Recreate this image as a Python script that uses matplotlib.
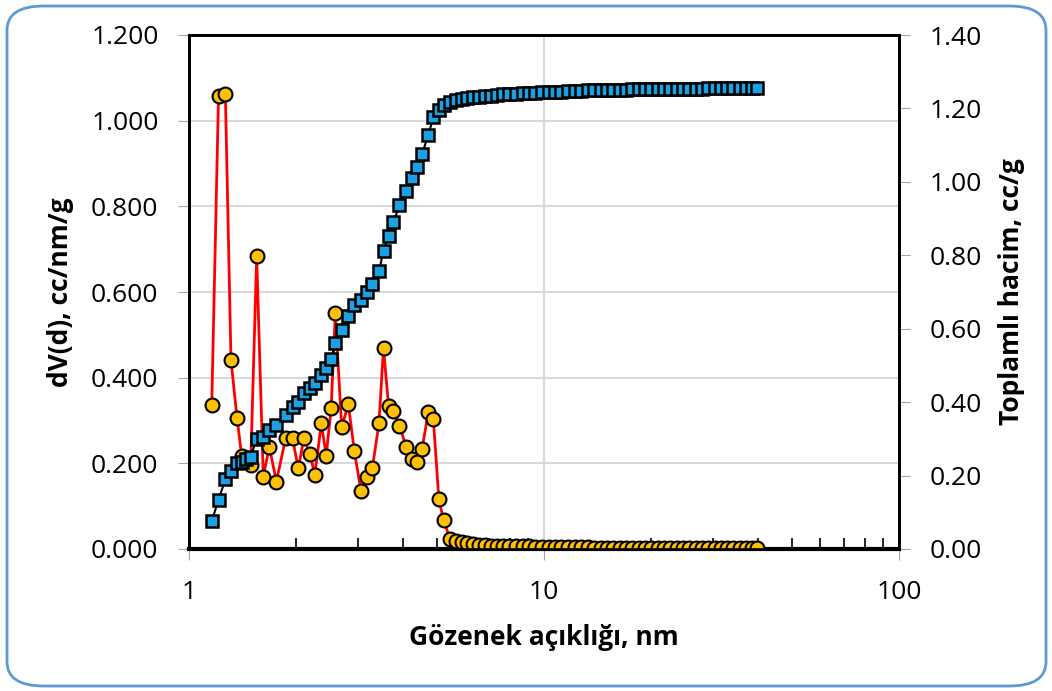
import matplotlib.pyplot as plt
from matplotlib.patches import FancyBboxPatch
from matplotlib.ticker import FormatStrFormatter, LogLocator, NullFormatter

plt.rcParams['font.family'] = ['Open Sans', 'DejaVu Sans']

# pore width (nm)
pore_nm = [1.159, 1.211, 1.266, 1.313, 1.365, 1.408, 1.447, 1.492, 1.551, 1.619,
           1.684, 1.762, 1.871, 1.957, 2.032, 2.106, 2.192, 2.261, 2.359, 2.435,
           2.515, 2.583, 2.692, 2.811, 2.922, 3.052, 3.179, 3.284, 3.428, 3.531,
           3.648, 3.763, 3.917, 4.095, 4.236, 4.402, 4.532, 4.722, 4.878, 5.055,
           5.212, 5.436, 5.65, 5.86, 6.07, 6.31, 6.56, 6.82, 7.09, 7.37,
           7.66, 7.99, 8.34, 8.70, 9.07, 9.46, 9.87, 10.30, 10.74, 11.20,
           11.68, 12.19, 12.71, 13.26, 13.83, 14.43, 15.05, 15.65, 16.32, 17.02,
           17.70, 18.46, 19.25, 20.02, 20.88, 21.78, 22.64, 23.62, 24.63, 25.61,
           26.72, 27.87, 28.97, 30.22, 31.52, 32.77, 34.18, 35.65, 37.07, 38.54,
           39.81]

# dV(d), cc/nm/g
dv = [0.336, 1.058, 1.062, 0.441, 0.307, 0.216, 0.210, 0.196, 0.684, 0.169,
      0.239, 0.157, 0.258, 0.258, 0.188, 0.258, 0.222, 0.173, 0.293, 0.218,
      0.330, 0.550, 0.284, 0.338, 0.229, 0.135, 0.169, 0.188, 0.293, 0.469,
      0.335, 0.322, 0.288, 0.237, 0.210, 0.202, 0.233, 0.319, 0.304, 0.117,
      0.068, 0.023, 0.018, 0.016, 0.013, 0.011, 0.009, 0.010, 0.008, 0.008,
      0.007, 0.007, 0.006, 0.006, 0.006, 0.005, 0.005, 0.005, 0.004, 0.004,
      0.004, 0.004, 0.004, 0.004, 0.003, 0.003, 0.003, 0.003, 0.003, 0.003,
      0.003, 0.003, 0.003, 0.003, 0.003, 0.003, 0.003, 0.003, 0.003, 0.003,
      0.003, 0.003, 0.003, 0.003, 0.003, 0.003, 0.003, 0.003, 0.003, 0.003,
      0.003]

# cumulative volume, cc/g
cum = [0.076, 0.134, 0.190, 0.213, 0.233, 0.238, 0.245, 0.251, 0.300, 0.306,
       0.324, 0.338, 0.365, 0.388, 0.401, 0.424, 0.438, 0.453, 0.474, 0.492,
       0.518, 0.560, 0.597, 0.635, 0.665, 0.678, 0.699, 0.722, 0.756, 0.813,
       0.853, 0.890, 0.936, 0.976, 1.010, 1.040, 1.075, 1.128, 1.176, 1.196,
       1.210, 1.217, 1.222, 1.225, 1.228, 1.230, 1.232, 1.233, 1.235, 1.236,
       1.238, 1.239, 1.240, 1.241, 1.242, 1.243, 1.244, 1.245, 1.246, 1.246,
       1.247, 1.248, 1.248, 1.249, 1.250, 1.250, 1.250, 1.251, 1.251, 1.251,
       1.252, 1.252, 1.252, 1.253, 1.253, 1.253, 1.253, 1.254, 1.254, 1.254,
       1.254, 1.254, 1.255, 1.255, 1.255, 1.255, 1.255, 1.255, 1.256, 1.256,
       1.256]

left_ticks = [0.0, 0.2, 0.4, 0.6, 0.8, 1.0, 1.2]
right_ticks = [0.0, 0.2, 0.4, 0.6, 0.8, 1.0, 1.2, 1.4]

fig = plt.figure(figsize=(10.52, 6.91), dpi=100)
ax = fig.add_axes([189/1052, 142/691, 710/1052, 514/691])
ax2 = ax.twinx()

ax.set_xscale('log')
ax.set_xlim(1, 100)
ax.set_ylim(0, 1.2)
ax2.set_ylim(0, 1.4)
ax.set_yticks(left_ticks)
ax2.set_yticks(right_ticks)
ax.yaxis.set_major_formatter(FormatStrFormatter('%.3f'))
ax2.yaxis.set_major_formatter(FormatStrFormatter('%.2f'))
ax.xaxis.set_minor_locator(LogLocator(base=10, subs=range(2, 10)))
ax.xaxis.set_minor_formatter(NullFormatter())
ax.set_xticks([1, 10, 100])
ax.set_xticklabels(['1', '10', '100'])

ax.grid(True, which='major', color='#d9d9d9', lw=1.5)
ax.set_axisbelow(True)

ax.plot(pore_nm, dv, color='#ff0000', lw=2, marker='o', ms=10,
        mfc='#ffc000', mec='black', mew=1.5, zorder=3)
ax2.plot(pore_nm, cum, color='black', lw=1.5, marker='s', ms=9,
         mfc='#1ba1e2', mec='black', mew=1.8, zorder=3)

for a in (ax, ax2):
    for s in a.spines.values():
        s.set_color('black')
        s.set_linewidth(2)
ax.spines['bottom'].set_linewidth(3)

ax.tick_params(axis='y', which='major', direction='out', length=8, color='#a6a6a6',
               labelsize=19, pad=14)
ax2.tick_params(axis='y', which='major', direction='out', length=8, color='#a6a6a6',
                labelsize=19, pad=14)
ax.tick_params(axis='x', which='major', direction='out', length=8, color='#a6a6a6',
               labelsize=19, pad=14)
ax.tick_params(axis='x', which='minor', direction='in', length=8, color='black', width=1.2)

ax.set_xlabel('Gözenek açıklığı, nm', fontsize=19, fontweight='bold', labelpad=14)
ax.set_ylabel('dV(d), cc/nm/g', fontsize=19, fontweight='bold', labelpad=12)
ax2.set_ylabel('Toplamlı hacim, cc/g', fontsize=19, fontweight='bold', labelpad=12)

border = FancyBboxPatch((7/1052, 5/691), 1039/1052, 680/691,
                        boxstyle='round,pad=0,rounding_size=0.035',
                        transform=fig.transFigure, fill=False,
                        edgecolor='#5b9bd5', lw=2)
fig.patches.append(border)

fig.savefig('out.png', dpi=100)
